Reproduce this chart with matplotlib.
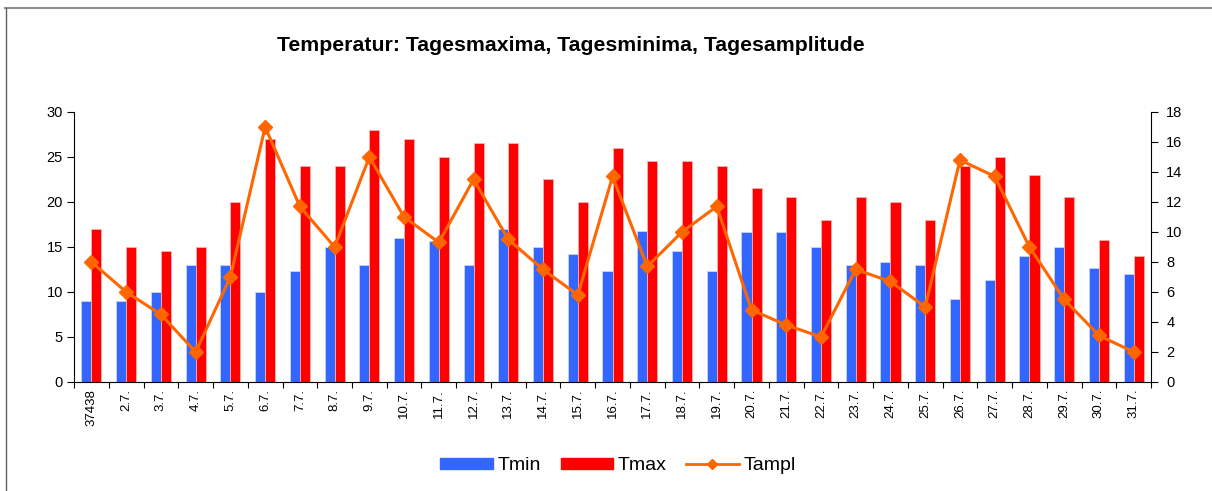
import numpy as np
import matplotlib
matplotlib.use("Agg")
import matplotlib.pyplot as plt
from matplotlib.lines import Line2D

plt.rcParams["font.family"] = ["Liberation Sans", "DejaVu Sans"]

days = ["37438"] + [f"{d}.7." for d in range(2, 32)]
tmin = [9, 9, 10, 13, 13, 10, 12.3, 15, 13, 16, 15.7, 13, 17, 15, 14.2, 12.3,
        16.8, 14.5, 12.3, 16.7, 16.7, 15, 13, 13.3, 13, 9.2, 11.3, 14, 15, 12.7, 12]
tmax = [17, 15, 14.5, 15, 20, 27, 24, 24, 28, 27, 25, 26.5, 26.5, 22.5, 20, 26,
        24.5, 24.5, 24, 21.5, 20.5, 18, 20.5, 20, 18, 24, 25, 23, 20.5, 15.8, 14]
tampl = [8, 6, 4.5, 2, 7, 17, 11.7, 9, 15, 11, 9.3, 13.5, 9.5, 7.5, 5.8, 13.7,
         7.7, 10, 11.7, 4.8, 3.8, 3, 7.5, 6.7, 5, 14.8, 13.7, 9, 5.5, 3.1, 2]

x = np.arange(len(days))
w = 0.29

fig = plt.figure(figsize=(12.12, 4.91), dpi=100)
ax = fig.add_axes([0.0611, 0.222, 0.8886, 0.550])
ax2 = ax.twinx()

ax.bar(x - w / 2, tmin, w, color="#3366FF", edgecolor="#C8D4FF", lw=0.6, zorder=2)
ax.bar(x + w / 2, tmax, w, color="#FF0000", edgecolor="#FFB0B0", lw=0.6, zorder=2)
ax2.plot(x, tampl, color="#FF6600", lw=2.2, marker="D", ms=7.5, zorder=3)

ax.set_xlim(-0.5, len(days) - 0.5)
ax.set_ylim(0, 30)
ax.set_yticks(np.arange(0, 31, 5))
ax2.set_ylim(0, 18)
ax2.set_yticks(np.arange(0, 19, 2))

ax.set_xticks(x)
ax.set_xticklabels(days, rotation=90, fontsize=9.5)
ax.set_xticks(np.arange(-0.5, len(days), 1), minor=True)
ax.tick_params(axis="x", which="major", length=0, pad=5)
ax.tick_params(axis="x", which="minor", length=4, direction="out", width=0.8)
ax.tick_params(axis="y", length=5, width=0.8, labelsize=10.5, pad=3)
ax2.tick_params(axis="y", length=5, width=0.8, labelsize=10.5, pad=6)

for a in (ax, ax2):
    a.spines["top"].set_visible(False)
ax.spines["right"].set_visible(False)
ax2.spines["left"].set_visible(False)
ax2.spines["bottom"].set_visible(False)

fig.text(0.471, 0.908, "Temperatur: Tagesmaxima, Tagesminima, Tagesamplitude",
         ha="center", va="center", fontsize=15.3, fontweight="bold")

handles = [plt.Rectangle((0, 0), 1, 1, color="#3366FF"),
           plt.Rectangle((0, 0), 1, 1, color="#FF0000"),
           Line2D([], [], color="#FF6600", lw=2, marker="D", ms=5)]
fig.legend(handles, ["Tmin", "Tmax", "Tampl"], loc="center", ncol=3,
           bbox_to_anchor=(0.51, 0.051), frameon=False, fontsize=14,
           handlelength=2.7, handleheight=0.55, columnspacing=1.0, handletextpad=0.25)

# outer frame lines like the source screenshot
fig.add_artist(Line2D([5 / 1212, 1], [1 - 7.5 / 491] * 2, color="#909090", lw=1.5,
                      transform=fig.transFigure))
fig.add_artist(Line2D([5.5 / 1212] * 2, [0, 1 - 7.5 / 491], color="#606060", lw=1.0,
                      transform=fig.transFigure))

fig.savefig("out.png", dpi=100)
